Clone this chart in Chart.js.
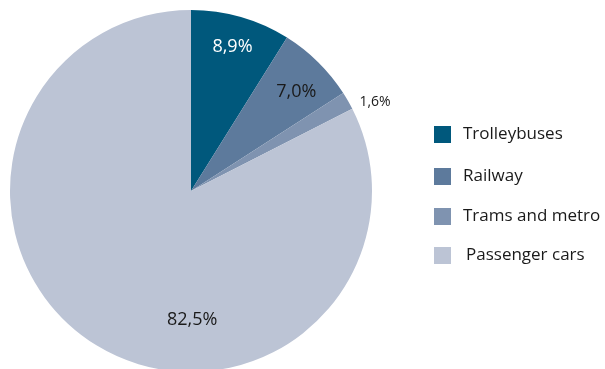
<!DOCTYPE html>
<html>
<head>
<meta charset="utf-8">
<script src="https://cdn.jsdelivr.net/npm/chart.js@4/dist/chart.umd.min.js"></script>
<style>
  html, body { margin: 0; padding: 0; background: #ffffff; width: 605px; height: 369px; overflow: hidden; }
  #wrap { position: relative; width: 605px; height: 382px; }
</style>
</head>
<body>
<div id="wrap"><canvas id="graficoModal"></canvas></div>
<script>
// modal split of passenger transport, percent
const categorias = ["Trolleybuses", "Railway", "Trams and metro", "Passenger cars"];
const valores = [8.9, 7.0, 1.6, 82.5];
const cores = ["#00587c", "#5d7a9c", "#7f93b0", "#bcc4d5"];

// where each percentage sits: fraction of radius, angle shift in degrees, colour, size
const rotulos = [
  { r: 0.83, giro: 0, cor: "#ffffff", tam: 18 },
  { r: 0.80, giro: 2, cor: "#1a1a1a", tam: 18 },
  { r: 1.13, giro: 4, cor: "#1a1a1a", tam: 14 },
  { r: 0.71, giro: -32, cor: "#1a1a1a", tam: 18 },
];

const fonte = "'Open Sans', 'Liberation Sans', sans-serif";

function formata(v) {
  return v.toFixed(1).replace(".", ",") + "%";
}

// escreve os percentuais perto de cada fatia
const pluginRotulos = {
  id: "rotulos",
  afterDatasetsDraw(chart) {
    const ctx = chart.ctx;
    const arcos = chart.getDatasetMeta(0).data;
    ctx.save();
    ctx.textAlign = "center";
    ctx.textBaseline = "middle";
    arcos.forEach((arco, i) => {
      const p = arco.getProps(["x", "y", "startAngle", "endAngle", "outerRadius"], true);
      const cfg = rotulos[i];
      const meio = (p.startAngle + p.endAngle) / 2 + cfg.giro * Math.PI / 180;
      const x = p.x + Math.cos(meio) * p.outerRadius * cfg.r;
      const y = p.y + Math.sin(meio) * p.outerRadius * cfg.r;
      ctx.fillStyle = cfg.cor;
      ctx.font = cfg.tam + "px " + fonte;
      ctx.fillText(formata(valores[i]), x, y);
    });
    ctx.restore();
  },
};

// legenda desenhada à direita do gráfico
const pluginLegenda = {
  id: "legendaLateral",
  afterDraw(chart) {
    const ctx = chart.ctx;
    const linhasY = [134, 176, 216, 255];
    ctx.save();
    ctx.textBaseline = "middle";
    ctx.font = "17px " + fonte;
    categorias.forEach((nome, i) => {
      ctx.fillStyle = cores[i];
      ctx.fillRect(434, linhasY[i] - 8, 17, 17);
      ctx.fillStyle = "#1a1a1a";
      ctx.fillText(nome, i === 3 ? 466 : 463, linhasY[i]);
    });
    ctx.restore();
  },
};

const graficoModal = new Chart(document.getElementById("graficoModal"), {
  type: "pie",
  data: {
    labels: categorias,
    datasets: [
      {
        data: valores,
        backgroundColor: cores,
        borderWidth: 0,
      },
    ],
  },
  options: {
    responsive: true,
    maintainAspectRatio: false,
    animation: false,
    layout: { padding: { left: 10, right: 233, top: 10, bottom: 10 } },
    plugins: {
      legend: { display: false },
      tooltip: { enabled: false },
    },
  },
  plugins: [pluginRotulos, pluginLegenda],
});
</script>
</body>
</html>
